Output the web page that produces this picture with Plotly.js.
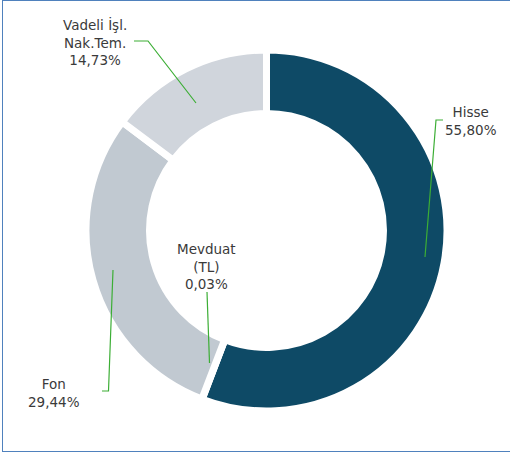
<!DOCTYPE html>
<html>
<head>
<meta charset="utf-8">
<script src="https://cdn.plot.ly/plotly-3.0.1.min.js"></script>
<style>
  html, body { margin: 0; padding: 0; background: #ffffff; }
  #frame { position: absolute; left: 2px; top: 0px; width: 520px; height: 450px;
           border: 1.5px solid #4f81bd; box-sizing: content-box; }
  #chart { position: absolute; left: 0; top: 0; width: 510px; height: 455px; }
</style>
</head>
<body>
<div id="chart"></div>
<div id="frame"></div>
<script>
// ---- data ----
const categories = ["Hisse", "Mevduat (TL)", "Fon", "Vadeli İşl. Nak.Tem."];
const labelTexts = ["Hisse", "Mevduat<br>(TL)", "Fon", "Vadeli İşl.<br>Nak.Tem."];
const shares = [55.80, 0.03, 29.44, 14.73];
const colors = ["#0e4a66", "#9aa6b2", "#c1c9d1", "#d0d5dc"];

function pct(v) { return v.toFixed(2).replace(".", ",") + "%"; }

const W = 510, H = 455;
const cx = 266.5, cy = 230.5, R = 180.5;

const pie = {
  type: "pie",
  labels: categories,
  values: shares,
  sort: false,
  direction: "clockwise",
  rotation: 0,
  hole: 0.648,
  textinfo: "none",
  hoverinfo: "label+percent",
  marker: { colors: colors, line: { color: "#ffffff", width: 7 } },
  domain: { x: [(cx - R) / W, (cx + R) / W], y: [1 - (cy + R) / H, 1 - (cy - R) / H] },
  showlegend: false
};

// label placement (pixel coords on a hidden overlay axis) and leader lines
const labelPos = [[471, 121], [206, 266], [54, 393], [95, 42]];
const leaders = [
  "M443,120 L436,120 L425,257",
  "M207,292 L209.5,363",
  "M102,391 L108.5,391 L113,270",
  "M134,41 L148,41 L196,103"
];

const annotations = categories.map((c, i) => ({
  xref: "x", yref: "y", x: labelPos[i][0], y: labelPos[i][1],
  text: labelTexts[i] + "<br>" + pct(shares[i]),
  showarrow: false, align: "center",
  font: { family: "DejaVu Sans, Verdana, sans-serif", size: 13.5, color: "#3a3a3a" }
}));

const shapes = leaders.map(p => ({
  type: "path", xref: "x", yref: "y", path: p, layer: "above",
  line: { color: "#3cae35", width: 1.2 }
}));

const layout = {
  width: W, height: H,
  margin: { l: 0, r: 0, t: 0, b: 0 },
  paper_bgcolor: "#ffffff", plot_bgcolor: "rgba(0,0,0,0)",
  xaxis: { range: [0, W], visible: false, fixedrange: true },
  yaxis: { range: [H, 0], visible: false, fixedrange: true },
  annotations: annotations,
  shapes: shapes,
  showlegend: false
};

Plotly.newPlot("chart", [pie], layout, { displayModeBar: false, staticPlot: true });
</script>
</body>
</html>
